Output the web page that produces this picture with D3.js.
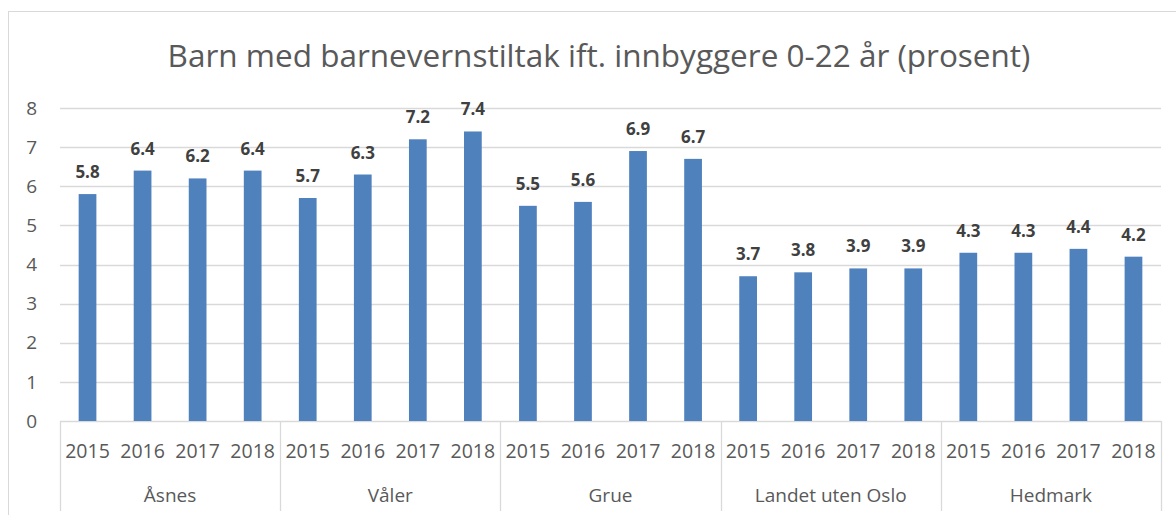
<!DOCTYPE html>
<html>
<head>
<meta charset="utf-8">
<script src="https://cdn.jsdelivr.net/npm/d3@7"></script>
<style>
  body { margin: 0; background: #fff; }
  svg { display: block; font-family: "Open Sans", "Noto Sans", sans-serif; }
</style>
</head>
<body>
<svg id="chart" width="1176" height="515"></svg>
<script>
// data
const groups = ['Åsnes', 'Våler', 'Grue', 'Landet uten Oslo', 'Hedmark'];
const years = ['2015', '2016', '2017', '2018'];
const values = [
    [5.8, 6.4, 6.2, 6.4],
    [5.7, 6.3, 7.2, 7.4],
    [5.5, 5.6, 6.9, 6.7],
    [3.7, 3.8, 3.9, 3.9],
    [4.3, 4.3, 4.4, 4.2]
];
const yTicks = [0, 1, 2, 3, 4, 5, 6, 7, 8];
const title = 'Barn med barnevernstiltak ift. innbyggere 0-22 år (prosent)';

const svg = d3.select('#chart');
const plot = { left: 60, right: 1161, top: 108, bottom: 421 };

// chart frame
svg.append('rect')
    .attr('x', 8.5).attr('y', 11.5)
    .attr('width', 1180).attr('height', 520)
    .attr('fill', '#fff')
    .attr('stroke', '#d9d9d9');

// flat rows
const rows = [];
groups.forEach((g, gi) => {
    years.forEach((yr, yi) => {
        rows.push({ key: g + '|' + yr, group: g, year: yr, value: values[gi][yi] });
    });
});

const x = d3.scaleBand()
    .domain(rows.map(d => d.key))
    .range([plot.left, plot.right])
    .paddingInner(0.678)
    .paddingOuter(0.339);

const slot = (plot.right - plot.left) / rows.length;

const y = d3.scaleLinear().domain([0, 8]).range([plot.bottom, plot.top]);

// gridlines
svg.append('g')
    .selectAll('line')
    .data(yTicks)
    .join('line')
    .attr('x1', plot.left).attr('x2', plot.right)
    .attr('y1', d => Math.round(y(d)) + 0.5)
    .attr('y2', d => Math.round(y(d)) + 0.5)
    .attr('stroke', '#d9d9d9')
    .attr('stroke-width', 1.3);

// y labels
svg.append('g')
    .selectAll('text')
    .data(yTicks)
    .join('text')
    .attr('x', 37)
    .attr('y', d => y(d))
    .attr('dy', '0.35em')
    .attr('text-anchor', 'end')
    .attr('font-size', 19)
    .attr('fill', '#595959')
    .text(d => d);

// bars
svg.append('g')
    .selectAll('rect')
    .data(rows)
    .join('rect')
    .attr('x', d => x(d.key))
    .attr('width', x.bandwidth())
    .attr('y', d => y(d.value))
    .attr('height', d => y(0) - y(d.value))
    .attr('fill', '#4f81bd');

// value labels
svg.append('g')
    .selectAll('text')
    .data(rows)
    .join('text')
    .attr('x', d => x(d.key) + x.bandwidth() / 2)
    .attr('y', d => y(d.value) - 16)
    .attr('text-anchor', 'middle')
    .attr('font-size', 17)
    .attr('font-weight', 'bold')
    .attr('fill', '#404040')
    .text(d => d.value.toFixed(1));

// category axis: year labels
svg.append('g')
    .selectAll('text')
    .data(rows)
    .join('text')
    .attr('x', d => x(d.key) + x.bandwidth() / 2)
    .attr('y', 451)
    .attr('dy', '0.35em')
    .attr('text-anchor', 'middle')
    .attr('font-size', 19.5)
    .attr('fill', '#595959')
    .text(d => d.year);

// group separators
const sepX = d3.range(groups.length + 1).map(i => plot.left + i * years.length * slot);
svg.append('g')
    .selectAll('line')
    .data(sepX)
    .join('line')
    .attr('x1', d => Math.round(d) + 0.5).attr('x2', d => Math.round(d) + 0.5)
    .attr('y1', plot.bottom).attr('y2', 511)
    .attr('stroke', '#d9d9d9')
    .attr('stroke-width', 1.3);

// group labels
svg.append('g')
    .selectAll('text')
    .data(groups)
    .join('text')
    .attr('x', (d, i) => (sepX[i] + sepX[i + 1]) / 2)
    .attr('y', 495)
    .attr('dy', '0.35em')
    .attr('text-anchor', 'middle')
    .attr('font-size', 19)
    .attr('fill', '#595959')
    .text(d => d);

// title
svg.append('text')
    .attr('x', 599)
    .attr('y', 67)
    .attr('text-anchor', 'middle')
    .attr('font-size', 31.5)
    .attr('fill', '#595959')
    .text(title);
</script>
</body>
</html>
